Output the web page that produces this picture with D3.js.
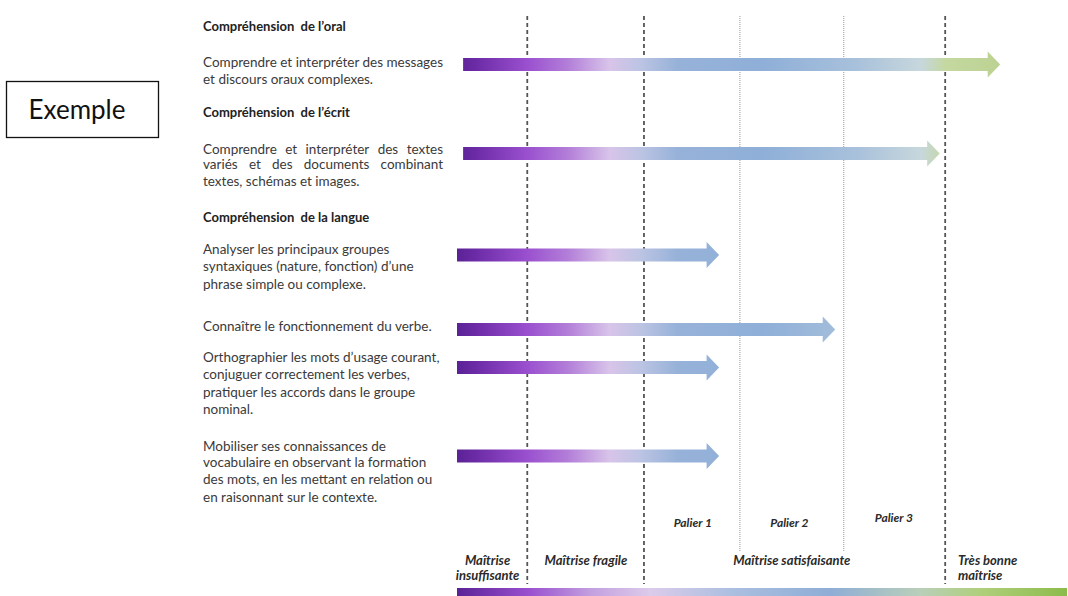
<!DOCTYPE html>
<html>
<head>
<meta charset="utf-8">
<script src="https://cdn.jsdelivr.net/npm/d3@7"></script>
<style>
  body { margin: 0; background: #fff; }
  svg { display: block; }
</style>
</head>
<body>
<div id="chart"></div>
<script>
// Données (échelle de maîtrise 0 - 100)
const rubriques = ["Compréhension  de l’oral", "Compréhension  de l’écrit", "Compréhension  de la langue"];
const competences = [
  ["Comprendre et interpréter des messages", "et discours oraux complexes."],
  ["Comprendre et interpréter des textes", "variés et des documents combinant", "textes, schémas et images."],
  ["Analyser les principaux groupes", "syntaxiques (nature, fonction) d’une", "phrase simple ou complexe."],
  ["Connaître le fonctionnement du verbe."],
  ["Orthographier les mots d’usage courant,", "conjuguer correctement les verbes,", "pratiquer les accords dans le groupe", "nominal."],
  ["Mobiliser ses connaissances de", "vocabulaire en observant la formation", "des mots, en les mettant en relation ou", "en raisonnant sur le contexte."]
];
const debuts = [1, 1, 0, 0, 0, 0];
const niveaux = [88.9, 79.0, 42.9, 61.9, 42.9, 42.9];
const seuilsTirets = [11.5, 30.6, 79.9];
const seuilsPaliers = [46.3, 63.3];
const paliers = ["Palier 1", "Palier 2", "Palier 3"];
const paliersPos = [38.6, 54.4, 71.5];
const maitrises = [["Maîtrise", "insuffisante"], ["Maîtrise fragile"], ["Maîtrise satisfaisante"], ["Très bonne", "maîtrise"]];
const maitrisesPos = [5.0, 21.1, 54.8, 82.0];

const width = 1068, height = 596;
const svg = d3.select("#chart").append("svg")
    .attr("width", width)
    .attr("height", height);

const x = d3.scaleLinear().domain([0, 100]).range([457, 1068]);

// dégradé commun aux flèches
const defs = svg.append("defs");
const stops = [
  [0, "#5a2296"], [3, "#6c2ba6"], [11.5, "#9a50cf"], [18, "#b27dd8"], [25, "#d8c4e9"],
  [30, "#bcc4e3"], [36, "#97b2d9"], [50, "#8fafd8"], [65, "#a7c0db"], [76, "#c7d7dc"],
  [80, "#c4d8a0"], [90, "#bbd190"], [100, "#b5cd88"]
];
const grad = defs.append("linearGradient")
    .attr("id", "grad")
    .attr("gradientUnits", "userSpaceOnUse")
    .attr("x1", x(0)).attr("x2", x(100)).attr("y1", 0).attr("y2", 0);
grad.selectAll("stop").data(stops).enter().append("stop")
    .attr("offset", d => d[0] + "%")
    .attr("stop-color", d => d[1]);

// dégradé de la barre du bas (plus étiré)
const stopsBas = [
  [0, "#5a2296"], [11.8, "#9a50cf"], [22, "#c3a0df"], [31.6, "#dccbea"], [45, "#abbfe0"],
  [61, "#8fadd6"], [75.8, "#b9cfb9"], [85.6, "#b0cf7c"], [100, "#8cbb4a"]
];
const gradBas = defs.append("linearGradient")
    .attr("id", "gradBas")
    .attr("gradientUnits", "userSpaceOnUse")
    .attr("x1", x(0)).attr("x2", x(100)).attr("y1", 0).attr("y2", 0);
gradBas.selectAll("stop").data(stopsBas).enter().append("stop")
    .attr("offset", d => d[0] + "%")
    .attr("stop-color", d => d[1]);

// lignes verticales
svg.selectAll(".tiret").data(seuilsTirets).enter().append("line")
    .attr("x1", d => x(d)).attr("x2", d => x(d))
    .attr("y1", 16).attr("y2", 584)
    .attr("stroke", "#555")
    .attr("stroke-width", 1.8)
    .attr("stroke-dasharray", "4,3");

svg.selectAll(".palier").data(seuilsPaliers).enter().append("line")
    .attr("x1", d => x(d)).attr("x2", d => x(d))
    .attr("y1", 16).attr("y2", 552)
    .attr("stroke", "#999")
    .attr("stroke-width", 1)
    .attr("stroke-dasharray", "1,1");

// textes de gauche
const texte = svg.append("g")
    .style("font-family", "Lato, 'Open Sans', sans-serif")
    .style("font-size", "13.5px")
    .style("fill", "#3a3a3a");

const rubriquesY = [31, 117, 222];
texte.selectAll(".rub").data(rubriques).enter().append("text")
    .attr("x", 203)
    .attr("y", (d, i) => rubriquesY[i])
    .style("font-weight", "bold")
    .style("font-size", "13px")
    .style("fill", "#222")
    .style("white-space", "pre")
    .text(d => d);

const lignesY = [[67, 84], [154, 169, 186], [254, 271, 289], [331], [362, 379, 397, 414], [451, 467, 484, 502]];
const justifie = [[], [0, 1], [], [], [], []];
const right = 443;

competences.forEach((lignes, i) => {
  lignes.forEach((l, j) => {
    if (justifie[i].includes(j)) {
      // justification mot par mot
      const mots = l.split(" ");
      const tmp = mots.map(m => texte.append("text").attr("y", lignesY[i][j]).text(m));
      const larg = tmp.map(t => t.node().getComputedTextLength());
      const total = d3.sum(larg);
      const gap = (right - 203 - total) / (mots.length - 1);
      let cx = 203;
      tmp.forEach((t, k) => { t.attr("x", cx); cx += larg[k] + gap; });
    } else {
      texte.append("text")
          .attr("x", 203)
          .attr("y", lignesY[i][j])
          .text(l);
    }
  });
});

// flèches
const barresY = [64.5, 153.5, 255, 329.5, 367.5, 456];
const demi = 6.5, tete = 13, longTete = 12.5;
function fleche(d, i) {
  const p = d3.path();
  const x0 = x(debuts[i]), x1 = x(niveaux[i]), y = barresY[i];
  p.moveTo(x0, y - demi);
  p.lineTo(x1 - longTete, y - demi);
  p.lineTo(x1 - longTete, y - tete);
  p.lineTo(x1, y);
  p.lineTo(x1 - longTete, y + tete);
  p.lineTo(x1 - longTete, y + demi);
  p.lineTo(x0, y + demi);
  p.closePath();
  return p.toString();
}
svg.selectAll(".fleche").data(niveaux).enter().append("path")
    .attr("d", fleche)
    .attr("fill", "url(#grad)");

// barre du bas
svg.append("rect")
    .attr("x", x(0)).attr("y", 588)
    .attr("width", x(100) - x(0) - 1).attr("height", 9)
    .attr("fill", "url(#gradBas)");

// légendes du bas
const legende = svg.append("g")
    .style("font-family", "Lato, 'Open Sans', sans-serif")
    .style("font-size", "13px")
    .style("font-weight", "bold")
    .style("font-style", "italic")
    .style("fill", "#2a2a2a");

const paliersY = [527, 527, 522];
legende.selectAll(".pal").data(paliers).enter().append("text")
    .attr("x", (d, i) => x(paliersPos[i]))
    .attr("y", (d, i) => paliersY[i])
    .attr("text-anchor", "middle")
    .style("font-size", "12px")
    .text(d => d);

maitrises.forEach((lignes, i) => {
  lignes.forEach((l, j) => {
    legende.append("text")
        .attr("x", x(maitrisesPos[i]))
        .attr("y", 565 + j * 15)
        .attr("text-anchor", i === 3 ? "start" : "middle")
        .text(l);
  });
});

// encadré "Exemple"
svg.append("rect")
    .attr("x", 6.5).attr("y", 81.5)
    .attr("width", 152).attr("height", 56)
    .attr("fill", "none")
    .attr("stroke", "#111")
    .attr("stroke-width", 1.3);
svg.append("text")
    .attr("x", 77).attr("y", 119)
    .attr("text-anchor", "middle")
    .style("font-family", "Lato, 'Open Sans', sans-serif")
    .style("font-size", "26px")
    .style("fill", "#111")
    .text("Exemple");
</script>
</body>
</html>
